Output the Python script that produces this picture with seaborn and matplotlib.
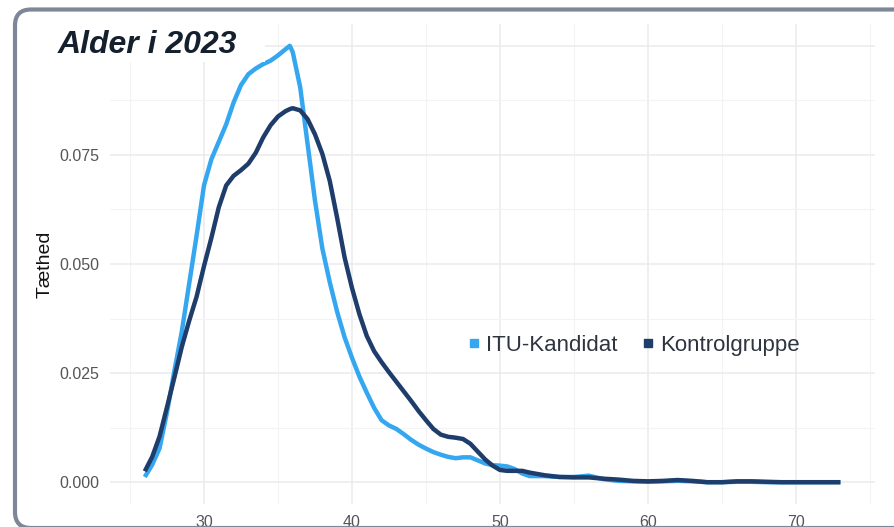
import matplotlib.pyplot as plt
import matplotlib.patches as mpatches
from matplotlib.lines import Line2D
import pandas as pd
import seaborn as sns

alder = [26, 26.5, 27, 27.5, 28, 28.5, 29, 29.5, 30, 30.5, 31, 31.5, 32, 32.5,
         33, 33.5, 34, 34.5, 35, 35.5, 35.8, 36, 36.5, 37, 37.5, 38, 38.5, 39,
         39.5, 40, 40.5, 41, 41.5, 42, 42.5, 43, 43.5, 44, 44.5, 45, 45.5, 46,
         46.5, 47, 47.5, 48, 48.5, 49, 49.5, 50, 50.5, 51, 51.5, 52, 53, 54,
         55, 56, 57, 58, 59, 60, 61, 62, 63, 64, 65, 66, 67, 68, 69, 70, 71,
         72, 73]

itu_kandidat = [0.0012, 0.0040, 0.0078, 0.0160, 0.0255, 0.0345, 0.0455, 0.0565,
                0.0680, 0.0740, 0.0780, 0.0820, 0.0870, 0.0910, 0.0935, 0.0948,
                0.0958, 0.0966, 0.0978, 0.0992, 0.1000, 0.0985, 0.0905, 0.0775,
                0.0645, 0.0535, 0.0458, 0.0390, 0.0332, 0.0285, 0.0242, 0.0205,
                0.0170, 0.0142, 0.0130, 0.0122, 0.0110, 0.0097, 0.0086, 0.0077,
                0.0069, 0.0063, 0.0058, 0.0055, 0.0057, 0.0057, 0.0050, 0.0043,
                0.0039, 0.0038, 0.0036, 0.0030, 0.0020, 0.0014, 0.0014, 0.0012,
                0.0012, 0.0015, 0.0007, 0.0003, 0.0002, 0.0001, 0.0002, 0.0003,
                0.0002, 0.0000, 0.0000, 0.0001, 0.0001, 0.0000, 0.0000, 0.0000,
                0.0000, 0.0000, 0.0000]

kontrolgruppe = [0.0025, 0.0058, 0.0105, 0.0172, 0.0240, 0.0310, 0.0370, 0.0425,
                 0.0495, 0.0560, 0.0630, 0.0680, 0.0702, 0.0715, 0.0730, 0.0755,
                 0.0790, 0.0818, 0.0838, 0.0850, 0.0855, 0.0857, 0.0852, 0.0832,
                 0.0797, 0.0752, 0.0690, 0.0605, 0.0515, 0.0445, 0.0385, 0.0335,
                 0.0300, 0.0275, 0.0252, 0.0230, 0.0208, 0.0186, 0.0163, 0.0142,
                 0.0122, 0.0109, 0.0104, 0.0102, 0.0099, 0.0088, 0.0070, 0.0052,
                 0.0038, 0.0028, 0.0026, 0.0026, 0.0026, 0.0022, 0.0016, 0.0012,
                 0.0011, 0.0011, 0.0008, 0.0006, 0.0003, 0.0002, 0.0003, 0.0005,
                 0.0003, 0.0000, 0.0000, 0.0002, 0.0002, 0.0001, 0.0000, 0.0000,
                 0.0000, 0.0000, 0.0000]

grupper = ['ITU-Kandidat', 'Kontrolgruppe']
farver = ['#35a7f0', '#1f3d6b']
x_ticks = [30, 40, 50, 60, 70]
x_minor = [25, 35, 45, 55, 65, 75]
# 0.100 ligger under titelboksen
y_ticks = [0.0, 0.025, 0.05, 0.075, 0.1]
y_labels = ['0.000', '0.025', '0.050', '0.075', '']
y_minor = [0.0125, 0.0375, 0.0625, 0.0875]

df = pd.DataFrame({
    'alder': alder * 2,
    'taethed': itu_kandidat + kontrolgruppe,
    'gruppe': [grupper[0]] * len(alder) + [grupper[1]] * len(alder),
})

sns.set_theme(style='white')
plt.rcParams['font.family'] = ['Liberation Sans', 'DejaVu Sans']

fig = plt.figure(figsize=(8.95, 5.27), dpi=100)
ax = fig.add_axes([0.1229, 0.0436, 0.855, 0.9109])

sns.lineplot(data=df, x='alder', y='taethed', hue='gruppe', hue_order=grupper,
             palette=farver, estimator=None, lw=3.2, legend=False, ax=ax,
             solid_capstyle='butt', solid_joinstyle='round')

ax.set_xlim(23.65, 75.35)
ax.set_ylim(-0.005, 0.105)
ax.set_xticks(x_ticks)
ax.set_xticks(x_minor, minor=True)
ax.set_yticks(y_ticks)
ax.set_yticklabels(y_labels)
ax.set_yticks(y_minor, minor=True)
ax.grid(which='major', color='#ebebeb', lw=1.1)
ax.grid(which='minor', color='#f3f3f3', lw=0.8)
ax.set_axisbelow(True)
for s in ax.spines.values():
    s.set_visible(False)
ax.tick_params(which='both', length=0)
ax.tick_params(axis='y', labelsize=11.5, labelcolor='#555555', pad=8)
ax.tick_params(axis='x', labelsize=11.5, labelcolor='#555555', pad=8)
ax.set_xlabel('')
ax.set_ylabel('Tæthed', fontsize=14, color='#111111', labelpad=4)

handles = [Line2D([], [], ls='none', marker='s', markersize=5.5, color=c) for c in farver]
ax.legend(handles, grupper, loc='center left', bbox_to_anchor=(0.442, 0.331),
          ncol=2, frameon=False, fontsize=16, handlelength=0.5,
          handletextpad=0.3, columnspacing=1.1, labelcolor='#2e3440')

# hvid boks bag titlen
fig.add_artist(mpatches.Rectangle((20 / 895, 1 - 62 / 527), 245 / 895, 48 / 527,
                                  transform=fig.transFigure, facecolor='white',
                                  edgecolor='none', zorder=5))
fig.text(58 / 895, 1 - 53 / 527, 'Alder i 2023', fontsize=23, fontweight='bold',
         fontstyle='italic', color='#15202e', va='baseline', ha='left', zorder=6)

# ramme
fig.add_artist(mpatches.FancyBboxPatch((15, -1), 930, 518.5, transform=None,
                                       boxstyle='round,pad=0,rounding_size=16',
                                       facecolor='none', edgecolor='#7d8797',
                                       lw=3, zorder=7))

fig.savefig('out.png', dpi=100)
